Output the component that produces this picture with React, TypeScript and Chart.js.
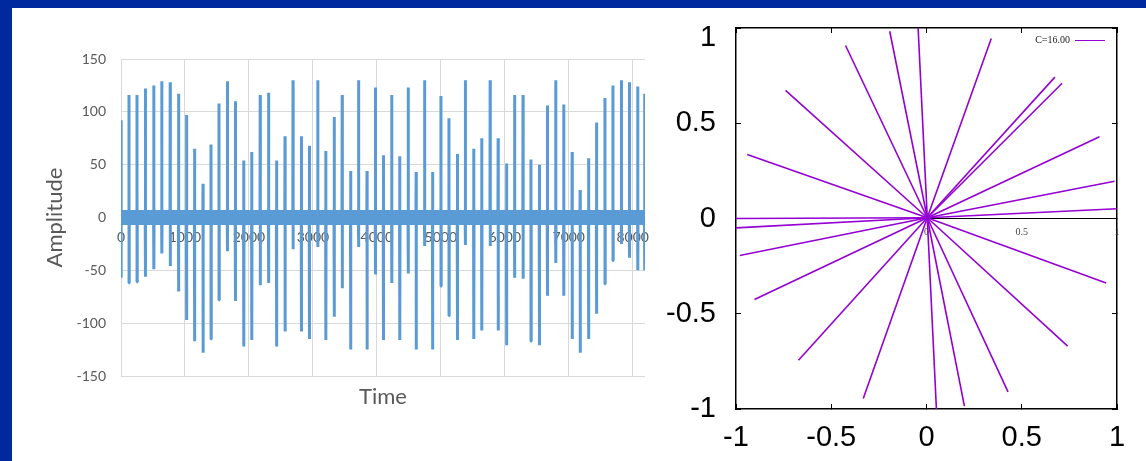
import React, { useEffect, useRef } from 'react';
import { Chart, registerables } from 'chart.js';
Chart.register(...registerables);

// ---------- Left chart (time signal) ----------
const spikeTimes = [0,125,250,381,513,638,769,900,1025,1150,1282,1407,1532,1663,1788,1919,2044,2176,2307,2432,2564,2689,2820,2945,3077,3202,3333,3458,3590,3714,3846,3977,4102,4233,4358,4490,4614,4746,4871,5002,5127,5259,5383,5515,5640,5771,5896,6028,6153,6285,6409,6541,6666,6797,6922,7053,7178,7310,7434,7566,7691,7823,7948,8079,8186];
const spikePeaks = [92,116,116,122,125,129,128,117,97,65,32,69,108,129,110,54,62,116,118,54,77,130,77,68,130,63,95,116,44,130,44,123,59,116,58,123,43,130,43,115,94,60,130,65,75,130,75,51,116,116,55,50,106,130,107,62,26,56,90,113,125,130,128,124,117];
const spikeTroughs = [-57,-62,-61,-56,-49,-34,-46,-70,-97,-117,-128,-115,-78,-32,-79,-122,-116,-64,-62,-122,-108,-30,-108,-115,-28,-116,-94,-67,-125,-28,-125,-54,-116,-62,-116,-53,-125,-27,-125,-65,-93,-116,-26,-115,-107,-27,-107,-121,-57,-58,-117,-121,-74,-43,-74,-115,-128,-115,-91,-63,-41,-25,-38,-50,-50];
const noiseTimes = [0, 8192];
const noiseUpper = [7, 7];
const noiseLower = [-7, -7];
const timeTicks = [0,1000,2000,3000,4000,5000,6000,7000,8000];
const timeTickLabels = ['0','1000','2000','3000','4000','5000','6000','7000','8000'];
const ampTicks = [-150,-100,-50,0,50,100,150];
const ampTickLabels = ['-150','-100','-50','0','50','100','150'];

// ---------- Right chart (rays) ----------
const rayOrigin = [0.004, 0.004];
const rayEndX = [-0.044,-0.193,-0.425,-0.740,-0.941,0.340,0.674,0.712,0.908,0.987,1.0,-1.0,-1.0,-0.980,-0.903,-0.672,-0.332,0.052,0.199,0.428,0.741,0.943];
const rayEndY = [1.0,0.983,0.908,0.673,0.336,0.945,0.742,0.710,0.429,0.196,0.051,0.0,-0.049,-0.194,-0.425,-0.744,-0.945,-1.0,-0.985,-0.910,-0.670,-0.338];
const innerLineX = [0, 1];
const innerLineY = [0, 0];
const axisTicks = [-1,-0.5,0,0.5,1];
const xTickLabels = ['-1','-0.5','0','0.5','1'];
const yTickLabels = ['-1','-0.5','0','0.5',''];
const yTopTicks = [1];
const yTopTickLabels = ['1'];
const innerTicks = [0,0.5,1];
const innerTickLabels = ['0','0.5','1'];
const legendLabel = 'C=16.00';

const BG_BLUE = '#0029A0';
const LINE_BLUE = '#5B9BD5';
const GRID = '#D9D9D9';
const TEXT_GRAY = '#595959';
const PURPLE = '#9400D3';

const fixSize = (w?: number, h?: number) => (s: any) => {
  if (w !== undefined) s.width = w;
  if (h !== undefined) s.height = h;
  s.paddingLeft = 0; s.paddingRight = 0; s.paddingTop = 0; s.paddingBottom = 0;
};
const setTicks = (vals: number[]) => (s: any) => { s.ticks = vals.map((v) => ({ value: v })); };
const labelFrom = (vals: number[], labels: string[]) => (v: any) => {
  const i = vals.indexOf(Number(v));
  return i >= 0 ? labels[i] : '';
};

function LeftChart() {
  const ref = useRef<HTMLCanvasElement>(null);
  useEffect(() => {
    const pts: any[] = [];
    spikeTimes.forEach((t, i) => {
      pts.push({ x: t - 3, y: 0 }, { x: t, y: spikePeaks[i] }, { x: t + 1, y: spikeTroughs[i] }, { x: t + 4, y: 0 });
    });
    const chart = new Chart(ref.current as HTMLCanvasElement, {
      type: 'line',
      data: {
        datasets: [
          { data: pts, borderColor: LINE_BLUE, borderWidth: 3, pointRadius: 0, borderJoinStyle: 'bevel', fill: false, tension: 0, xAxisID: 'x', yAxisID: 'y' } as any,
          { data: noiseTimes.map((t, i) => ({ x: t, y: noiseUpper[i] })), borderWidth: 0, borderColor: LINE_BLUE, backgroundColor: LINE_BLUE, pointRadius: 0, fill: '+1', xAxisID: 'x', yAxisID: 'y' },
          { data: noiseTimes.map((t, i) => ({ x: t, y: noiseLower[i] })), borderWidth: 0, borderColor: LINE_BLUE, pointRadius: 0, fill: false, xAxisID: 'x', yAxisID: 'y' },
        ],
      },
      options: {
        responsive: false,
        animation: false,
        layout: { padding: { left: 26, right: 15, top: 51, bottom: 51 } },
        plugins: { legend: { display: false }, tooltip: { enabled: false } },
        scales: {
          x: {
            type: 'linear', min: 0, max: 8192, position: { y: 0 } as any,
            afterBuildTicks: setTicks(timeTicks), afterFit: fixSize(),
            grid: { color: GRID, lineWidth: 1, drawTicks: false },
            border: { display: false },
            ticks: { padding: 12, color: TEXT_GRAY, font: { family: 'Lato', size: 14 }, maxRotation: 0, autoSkip: false, callback: labelFrom(timeTicks, timeTickLabels) },
          },
          x2: {
            type: 'linear', min: 0, max: 8192, position: 'bottom',
            afterFit: fixSize(undefined, 34),
            grid: { display: false, drawTicks: false }, border: { display: false },
            ticks: { display: false },
            title: { display: true, text: 'Time', color: TEXT_GRAY, font: { family: 'Lato', size: 22 }, padding: { top: 0, bottom: 0 } },
          },
          y: {
            type: 'linear', min: -150, max: 150, position: 'left',
            afterBuildTicks: setTicks(ampTicks), afterFit: fixSize(83),
            grid: { color: GRID, lineWidth: 1, drawTicks: false },
            border: { display: false },
            ticks: { padding: 15, color: TEXT_GRAY, font: { family: 'Lato', size: 14 }, callback: labelFrom(ampTicks, ampTickLabels) },
            title: { display: true, text: 'Amplitude', color: TEXT_GRAY, font: { family: 'Lato', size: 22 }, padding: { top: 4, bottom: 4 } },
          },
        },
      } as any,
    });
    return () => chart.destroy();
  }, []);
  return <canvas ref={ref} width={648} height={453} style={{ position: 'absolute', left: 12, top: 8, display: 'block' }} />;
}

const insideLegend = {
  id: 'insideLegend',
  afterDatasetsDraw(chart: any) {
    const { ctx, chartArea } = chart;
    const ds = chart.data.datasets[0];
    const y = chartArea.top + 12;
    ctx.save();
    ctx.font = '10px "Liberation Serif"';
    ctx.fillStyle = '#222';
    ctx.textAlign = 'right';
    ctx.textBaseline = 'middle';
    ctx.fillText(ds.label, chartArea.right - 47, y);
    ctx.strokeStyle = ds.borderColor;
    ctx.lineWidth = 1;
    ctx.beginPath();
    ctx.moveTo(chartArea.right - 42, y + 0.5);
    ctx.lineTo(chartArea.right - 12, y + 0.5);
    ctx.stroke();
    ctx.restore();
  },
};

function RightChart() {
  const ref = useRef<HTMLCanvasElement>(null);
  useEffect(() => {
    const datasets: any[] = [];
    rayEndX.forEach((ex, i) => {
      datasets.push({
        label: i === 0 ? legendLabel : '',
        data: [{ x: rayOrigin[0], y: rayOrigin[1] }, { x: ex, y: rayEndY[i] }],
        borderColor: PURPLE, borderWidth: 1.6, pointRadius: 0, fill: false, xAxisID: 'x', yAxisID: 'y',
      });
    });
    datasets.push({
      label: '', data: innerLineX.map((x, i) => ({ x, y: innerLineY[i] })),
      borderColor: '#000', borderWidth: 1, pointRadius: 0, fill: false, xAxisID: 'x', yAxisID: 'y',
    });

    const tickGrid = { drawOnChartArea: false, drawTicks: true, tickLength: -5, color: '#000', lineWidth: 1 };
    const border = { display: true, color: '#000', width: 1.5 };
    const bigFont = { family: 'Liberation Sans', size: 29 };
    const chart = new Chart(ref.current as HTMLCanvasElement, {
      type: 'line',
      data: { datasets },
      options: {
        responsive: false,
        animation: false,
        layout: { padding: { left: 0, right: 29, top: 20, bottom: 6 } },
        plugins: { legend: { display: false }, tooltip: { enabled: false } },
        scales: {
          x: {
            type: 'linear', min: -1, max: 1, position: 'bottom',
            afterBuildTicks: setTicks(axisTicks), afterFit: fixSize(undefined, 46),
            grid: tickGrid, border,
            ticks: { padding: 17, color: '#000', font: bigFont, maxRotation: 0, autoSkip: false, callback: labelFrom(axisTicks, xTickLabels) },
          },
          xTop: {
            type: 'linear', min: -1, max: 1, position: 'top',
            afterBuildTicks: setTicks(axisTicks), afterFit: fixSize(undefined, 0),
            grid: tickGrid, border, ticks: { display: false },
          },
          y: {
            type: 'linear', min: -1, max: 1, position: 'left', weight: 1,
            afterBuildTicks: setTicks(axisTicks), afterFit: fixSize(76),
            grid: tickGrid, border,
            ticks: { padding: 25, color: '#000', font: bigFont, autoSkip: false, callback: labelFrom(axisTicks, yTickLabels) },
          },
          yTop: {
            type: 'linear', min: -1, max: 1, position: 'left', weight: 0,
            afterBuildTicks: setTicks(yTopTicks), afterFit: fixSize(0),
            grid: { display: false, drawTicks: false }, border: { display: false },
            ticks: { mirror: true, crossAlign: 'near', padding: -36, labelOffset: 9.5, color: '#000', font: bigFont, autoSkip: false, callback: labelFrom(yTopTicks, yTopTickLabels) },
          },
          yRight: {
            type: 'linear', min: -1, max: 1, position: 'right',
            afterBuildTicks: setTicks(axisTicks), afterFit: fixSize(0),
            grid: tickGrid, border, ticks: { display: false },
          },
          xi: {
            type: 'linear', min: -1, max: 1, position: { y: 0 } as any,
            afterBuildTicks: setTicks(innerTicks), afterFit: fixSize(),
            grid: { display: false, drawTicks: false }, border: { display: false },
            ticks: { padding: 8, color: '#444', font: { family: 'Liberation Serif', size: 10 }, maxRotation: 0, autoSkip: false, callback: labelFrom(innerTicks, innerTickLabels) },
          },
        },
      } as any,
      plugins: [insideLegend],
    });
    return () => chart.destroy();
  }, []);
  return <canvas ref={ref} width={486} height={453} style={{ position: 'absolute', left: 660, top: 8, display: 'block' }} />;
}

export default function App() {
  return (
    <div style={{ position: 'fixed', left: 0, top: 0, width: 1146, height: 461, background: BG_BLUE, overflow: 'hidden' }}>
      <div style={{ position: 'absolute', left: 12, top: 8, width: 1134, height: 453, background: '#ffffff' }} />
      <LeftChart />
      <RightChart />
    </div>
  );
}
